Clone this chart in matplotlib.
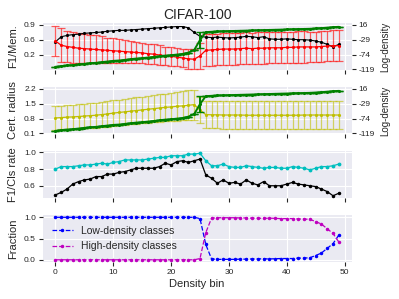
import numpy as np
import matplotlib
matplotlib.use('Agg')
import matplotlib.pyplot as plt

bins = np.arange(50)

# panel 1: F1 (black), memorization mean/std (red), log-density (green, right axis)
f1_mem = [0.50, 0.62, 0.65, 0.67, 0.68, 0.70, 0.71, 0.72, 0.73, 0.75,
          0.76, 0.77, 0.77, 0.78, 0.79, 0.80, 0.81, 0.82, 0.83, 0.84,
          0.85, 0.86, 0.86, 0.83, 0.72, 0.63, 0.61, 0.60, 0.61, 0.60,
          0.59, 0.60, 0.61, 0.63, 0.62, 0.60, 0.62, 0.57, 0.56, 0.56,
          0.57, 0.56, 0.55, 0.55, 0.54, 0.52, 0.49, 0.44, 0.38, 0.44]
mem_mean = [0.52, 0.42, 0.39, 0.37, 0.35, 0.34, 0.33, 0.32, 0.31, 0.30,
            0.29, 0.28, 0.27, 0.26, 0.25, 0.24, 0.22, 0.21, 0.19, 0.17,
            0.16, 0.14, 0.12, 0.10, 0.09, 0.17, 0.30, 0.31, 0.32, 0.33,
            0.33, 0.33, 0.34, 0.35, 0.34, 0.35, 0.35, 0.36, 0.36, 0.36,
            0.37, 0.37, 0.38, 0.38, 0.38, 0.38, 0.39, 0.40, 0.41, 0.41]
mem_std = [0.36, 0.40, 0.37, 0.36, 0.36, 0.35, 0.34, 0.33, 0.32, 0.30,
           0.29, 0.28, 0.27, 0.26, 0.25, 0.24, 0.24, 0.23, 0.23, 0.22,
           0.22, 0.22, 0.22, 0.23, 0.23, 0.30, 0.38, 0.38, 0.37, 0.37,
           0.37, 0.37, 0.37, 0.37, 0.37, 0.37, 0.37, 0.37, 0.37, 0.37,
           0.37, 0.37, 0.37, 0.37, 0.36, 0.36, 0.36, 0.36, 0.36, 0.36]
logdens = [-111, -109, -107, -106, -104, -102, -100, -99, -97, -95,
           -93, -92, -90, -88, -86, -85, -83, -81, -79, -77,
           -76, -74, -72, -68, -60, -30, -6, -5, -4, -3.5,
           -3, -2.5, -2, -1.5, -1, -0.5, 0, 0.5, 1, 1.5,
           2, 2.5, 3, 3.5, 4, 5, 6, 7.5, 9, 10]
logdens_std = [0] * 25 + [25] + [0] * 24

# panel 2: certified radius mean/std (yellow)
rad_mean = [0.83, 0.85, 0.87, 0.88, 0.90, 0.92, 0.94, 0.96, 0.99, 1.02,
            1.06, 1.09, 1.12, 1.15, 1.18, 1.21, 1.24, 1.27, 1.30, 1.33,
            1.35, 1.38, 1.40, 1.43, 1.46, 1.20, 0.99, 0.98, 0.98, 0.97,
            0.97, 0.97, 0.97, 0.96, 0.96, 0.96, 0.96, 0.96, 0.96, 0.96,
            0.96, 0.96, 0.96, 0.97, 0.97, 0.97, 0.97, 0.97, 0.97, 0.97]
rad_std = [0.56, 0.56, 0.57, 0.57, 0.58, 0.58, 0.59, 0.59, 0.60, 0.60,
           0.61, 0.61, 0.62, 0.62, 0.63, 0.63, 0.64, 0.64, 0.65, 0.65,
           0.66, 0.67, 0.68, 0.70, 0.71, 0.60, 0.62, 0.63, 0.64, 0.65,
           0.65, 0.66, 0.66, 0.66, 0.66, 0.66, 0.66, 0.66, 0.66, 0.66,
           0.66, 0.66, 0.66, 0.66, 0.66, 0.66, 0.66, 0.66, 0.66, 0.66]

# panel 3: F1 (black), class rate (cyan)
f1 = [0.49, 0.52, 0.56, 0.62, 0.65, 0.67, 0.68, 0.71, 0.71, 0.74,
      0.74, 0.76, 0.77, 0.79, 0.81, 0.81, 0.81, 0.81, 0.83, 0.87,
      0.85, 0.89, 0.90, 0.88, 0.90, 0.92, 0.73, 0.69, 0.63, 0.67,
      0.63, 0.64, 0.62, 0.67, 0.63, 0.61, 0.65, 0.60, 0.60, 0.60,
      0.62, 0.64, 0.62, 0.61, 0.60, 0.59, 0.56, 0.53, 0.48, 0.51]
cls_rate = [0.80, 0.83, 0.83, 0.83, 0.84, 0.85, 0.85, 0.86, 0.87, 0.86,
            0.88, 0.89, 0.91, 0.91, 0.91, 0.91, 0.92, 0.93, 0.94, 0.94,
            0.96, 0.96, 0.96, 0.98, 0.98, 0.99, 0.90, 0.84, 0.84, 0.86,
            0.83, 0.82, 0.82, 0.84, 0.83, 0.82, 0.81, 0.82, 0.82, 0.81,
            0.81, 0.83, 0.82, 0.81, 0.79, 0.81, 0.83, 0.83, 0.84, 0.86]

# panel 4: class fractions
low_frac = [1.0] * 25 + [0.97, 0.36, 0.02, 0.01, 0.01,
                         0.01, 0.01, 0.015, 0.015, 0.02, 0.02, 0.025, 0.02, 0.025, 0.03,
                         0.03, 0.03, 0.04, 0.04, 0.05, 0.10, 0.16, 0.27, 0.38, 0.58]
high_frac = [1 - v for v in low_frac]

plt.style.use('seaborn-v0_8-darkgrid')
plt.rcParams.update({
    'xtick.major.size': 3, 'ytick.major.size': 3,
    'xtick.major.width': 0.8, 'ytick.major.width': 0.8,
    'xtick.labelsize': 6, 'ytick.labelsize': 6,
    'xtick.major.pad': 2, 'ytick.major.pad': 2,
})

fig, axes = plt.subplots(4, 1, sharex=True, figsize=(3.99, 2.99), dpi=100)
fig.subplots_adjust(left=0.107, right=0.881, top=0.923, bottom=0.124, hspace=0.37)

rticks = [-119, -74, -29, 16]
rlim = (-120, 21.5)

# panel 1
ax = axes[0]
ax.errorbar(bins, mem_mean, yerr=mem_std, fmt='.-', color='r', ecolor=(1, 0.1, 0.1, 0.7),
            capsize=3, lw=0.9, elinewidth=0.9, capthick=0.9, ms=2.5)
ax.plot(bins, f1_mem, '.-', color='k', lw=0.8, ms=2.5)
lo = 0.9 + (rlim[0] - 16) * 0.35 / 45
hi = 0.9 + (rlim[1] - 16) * 0.35 / 45
ax.set_ylim(lo, hi)
ax.set_yticks([0.2, 0.55, 0.9])
ax.set_yticklabels(['0.2', '0.6', '0.9'])
ax.set_ylabel('F1/Mem.', fontsize=8)
ax.set_title('CIFAR-100', fontsize=10, pad=3)
ax2 = ax.twinx()
ax2.grid(False)
ax2.errorbar(bins, logdens, yerr=logdens_std, fmt='.-', color='g', capsize=3, lw=1.4, ms=2.5)
ax2.set_ylim(*rlim)
ax2.set_yticks(rticks)
ax2.set_yticklabels([str(t) for t in rticks])
ax2.set_ylabel('Log-density', fontsize=7)

# panel 2
ax = axes[1]
ax.errorbar(bins, rad_mean, yerr=rad_std, fmt='.-', color='y', ecolor=(0.75, 0.75, 0, 0.6),
            capsize=3, lw=0.9, elinewidth=0.9, capthick=0.9, ms=2.5)
lo = 0.1 + (rlim[0] + 119) * 2.1 / 135
hi = 0.1 + (rlim[1] + 119) * 2.1 / 135
ax.set_ylim(lo, hi)
ax.set_yticks([0.1, 0.8, 1.5, 2.2])
ax.set_yticklabels(['0.1', '0.8', '1.5', '2.2'])
ax.set_ylabel('Cert. radius', fontsize=8)
ax2 = ax.twinx()
ax2.grid(False)
ax2.errorbar(bins, logdens, yerr=logdens_std, fmt='.-', color='g', capsize=3, lw=1.4, ms=2.5)
ax2.set_ylim(*rlim)
ax2.set_yticks(rticks)
ax2.set_yticklabels([str(t) for t in rticks])
ax2.set_ylabel('Log-density', fontsize=7)

# panel 3
ax = axes[2]
ax.plot(bins, cls_rate, '.-', color='c', lw=0.9, ms=3.5)
ax.plot(bins, f1, '.-', color='k', lw=0.9, ms=3)
ax.set_yticks([0.6, 0.8, 1.0])
ax.set_ylabel('F1/Cls rate', fontsize=8)

# panel 4
ax = axes[3]
ax.plot(bins, low_frac, '.--', color='b', lw=0.9, ms=3, label='Low-density classes')
ax.plot(bins, high_frac, '.--', color='m', lw=0.9, ms=3, label='High-density classes')
ax.set_yticks([0.0, 0.5, 1.0])
ax.set_ylabel('Fraction', fontsize=8)
ax.set_xlabel('Density bin', fontsize=8, labelpad=2)
ax.legend(loc='center left', fontsize=7.5, frameon=False)

ax.set_xlim(-2.2, 51.2)
ax.set_xticks(range(0, 51, 10))

fig.savefig('out.png', dpi=100)
